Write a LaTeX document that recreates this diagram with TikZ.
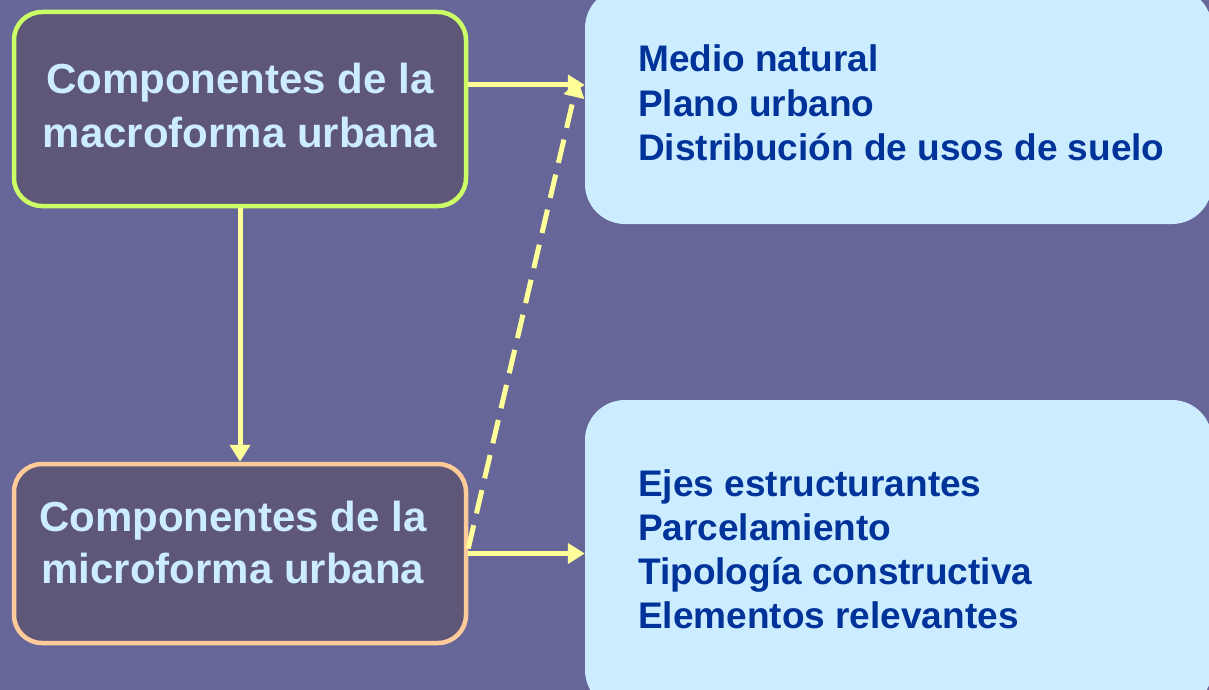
\documentclass[tikz,border=0pt]{standalone}
\usepackage{fontspec}
\setmainfont{Liberation Sans}
\usetikzlibrary{arrows.meta,positioning}
\definecolor{fondo}{RGB}{102,102,153}
\definecolor{caja}{RGB}{95,87,120}
\definecolor{lima}{RGB}{204,255,102}
\definecolor{salmon}{RGB}{255,204,153}
\definecolor{celeste}{RGB}{204,236,255}
\definecolor{azul}{RGB}{0,51,153}
\definecolor{flecha}{RGB}{255,255,153}

\tikzset{
  compbox/.style={draw, fill=caja, line width=4.5pt, rounded corners=28pt,
    minimum width=452pt},
  comptext/.style={align=center, text=celeste, inner sep=0pt,
    font=\fontsize{42}{54}\selectfont\bfseries},
  listbox/.style={fill=celeste, rounded corners=40pt, minimum width=627pt, inner sep=0pt},
  listtext/.style={align=left, text=azul, anchor=west, inner sep=0pt,
    font=\fontsize{37}{44.5}\selectfont\bfseries},
  conector/.style={draw=flecha, line width=5pt, -{Triangle[length=17pt,width=20pt]}},
}

\begin{document}
\begin{tikzpicture}[x=1pt, y=-1pt]
	\useasboundingbox (0,0) rectangle (1209,690);
	\clip (0,0) rectangle (1209,690);
	\fill[fondo] (0,0) rectangle (1209,690);

	% componentes
	\node[compbox, draw=lima, minimum height=194pt] (macro) at (240,109) {};
	\node[compbox, draw=salmon, minimum height=179pt] (micro) at (240,553.5) {};
	\node[comptext] (macroTxt) at (240,105)
		{Componentes de la\\macroforma urbana};
	\node[comptext, font=\fontsize{42}{52}\selectfont\bfseries] (microTxt) at (233,542)
		{Componentes de la\\microforma urbana};

	% listas
	\node[listbox, minimum height=236pt] (medio) at (898.5,106) {};
	\node[listbox, minimum height=310pt] (ejes) at (898.5,555) {};
	\node[listtext] (medioTxt) at (638,103)
		{Medio natural\\Plano urbano\\Distribución de usos de suelo};
	\node[listtext, font=\fontsize{37}{44}\selectfont\bfseries] (ejesTxt) at (638,549)
		{Ejes estructurantes\\Parcelamiento\\Tipología constructiva\\Elementos relevantes};

	% flechas
	\coordinate (s1) at ([yshift=24pt]macro.east);
	\draw[conector] (s1) -- (s1 -| medio.west);
	\draw[conector] (micro.east) -- (micro.east -| ejes.west);
	\draw[conector] (macro.south) -- (micro.north);
	\coordinate (d0) at ([yshift=5pt]micro.east);
	\coordinate (d1) at ([xshift=-7pt, yshift=26pt]medio.west);
	\draw[conector, dash pattern=on 24pt off 12pt] (d0) -- (d1);
\end{tikzpicture}
\end{document}
